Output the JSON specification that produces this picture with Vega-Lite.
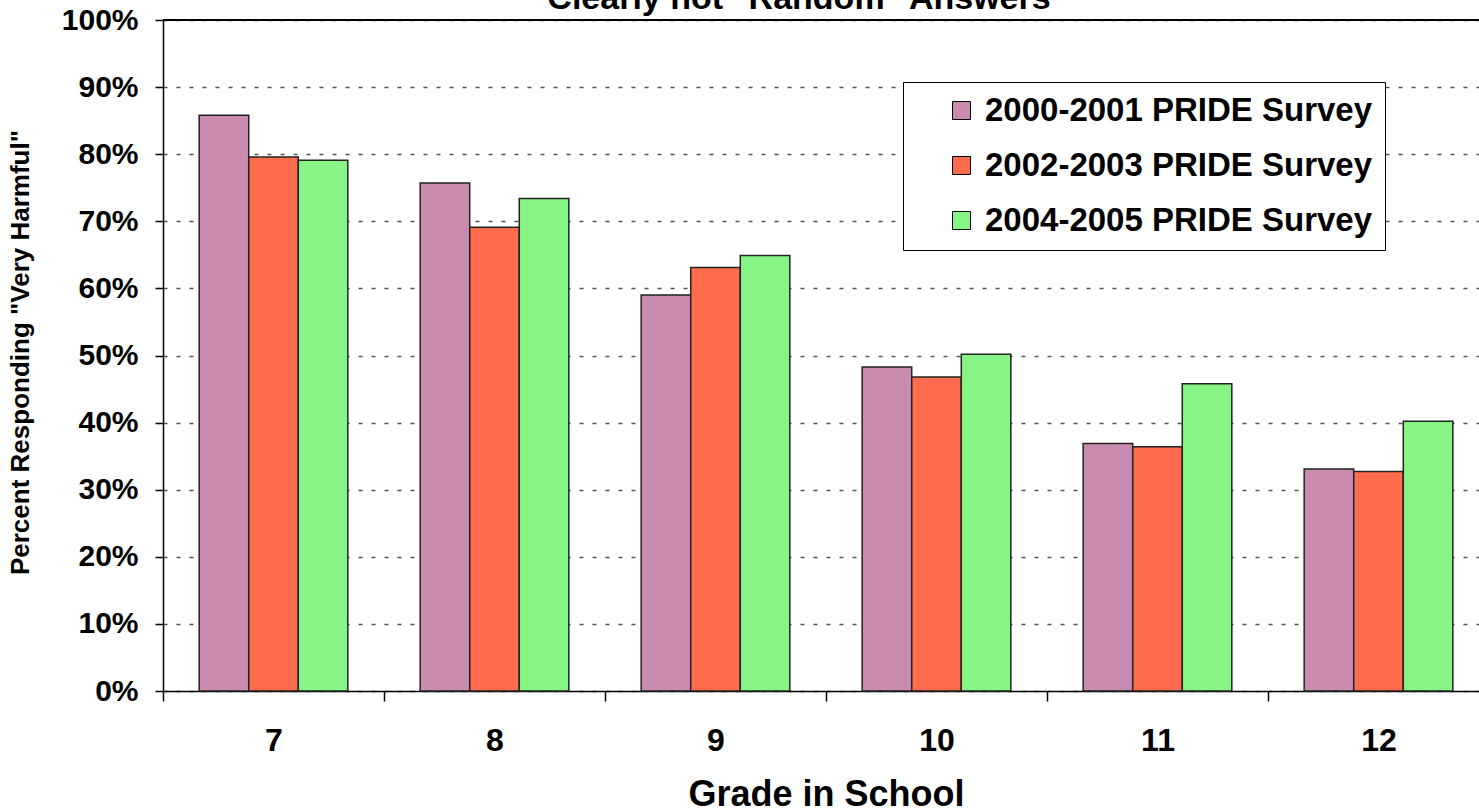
{
  "$schema": "https://vega.github.io/schema/vega-lite/v6.json",
  "width": 1316,
  "height": 671,
  "autosize": {"type": "none"},
  "padding": {"left": 163, "top": 20, "right": 0, "bottom": 121},
  "background": "white",
  "config": {"view": {"stroke": null}, "font": "Liberation Sans"},
  "title": {
    "text": "Clearly not \"Random\" Answers",
    "fontSize": 34,
    "fontWeight": "bold",
    "font": "Liberation Sans",
    "color": "black",
    "anchor": "middle",
    "offset": 6,
    "dx": -22,
    "dy": 17
  },
  "data": {
    "values": [
      {"grade": 7, "survey": "2000-2001 PRIDE Survey", "pct": 0.858},
      {"grade": 7, "survey": "2002-2003 PRIDE Survey", "pct": 0.796},
      {"grade": 7, "survey": "2004-2005 PRIDE Survey", "pct": 0.791},
      {"grade": 8, "survey": "2000-2001 PRIDE Survey", "pct": 0.757},
      {"grade": 8, "survey": "2002-2003 PRIDE Survey", "pct": 0.691},
      {"grade": 8, "survey": "2004-2005 PRIDE Survey", "pct": 0.734},
      {"grade": 9, "survey": "2000-2001 PRIDE Survey", "pct": 0.590},
      {"grade": 9, "survey": "2002-2003 PRIDE Survey", "pct": 0.631},
      {"grade": 9, "survey": "2004-2005 PRIDE Survey", "pct": 0.649},
      {"grade": 10, "survey": "2000-2001 PRIDE Survey", "pct": 0.483},
      {"grade": 10, "survey": "2002-2003 PRIDE Survey", "pct": 0.468},
      {"grade": 10, "survey": "2004-2005 PRIDE Survey", "pct": 0.502},
      {"grade": 11, "survey": "2000-2001 PRIDE Survey", "pct": 0.369},
      {"grade": 11, "survey": "2002-2003 PRIDE Survey", "pct": 0.364},
      {"grade": 11, "survey": "2004-2005 PRIDE Survey", "pct": 0.458},
      {"grade": 12, "survey": "2000-2001 PRIDE Survey", "pct": 0.331},
      {"grade": 12, "survey": "2002-2003 PRIDE Survey", "pct": 0.327},
      {"grade": 12, "survey": "2004-2005 PRIDE Survey", "pct": 0.402}
    ]
  },
  "layer": [
    {
      "mark": {"type": "bar", "stroke": "#222", "strokeWidth": 1.5},
      "encoding": {
        "x": {
          "field": "grade",
          "type": "ordinal",
          "sort": [7, 8, 9, 10, 11, 12],
          "scale": {"range": [0, 1326], "paddingInner": 0, "paddingOuter": 0},
          "axis": {
            "labelAngle": 0,
            "labelFontSize": 32,
            "labelFontWeight": "bold",
            "labelColor": "black",
            "tickBand": "extent",
            "tickSize": 10,
            "tickColor": "black",
            "tickWidth": 1.5,
            "labelPadding": 24,
            "domainColor": "black",
            "domainWidth": 1.5,
            "grid": false,
            "title": "Grade in School",
            "titleFontSize": 36,
            "titleFontWeight": "bold",
            "titleColor": "black",
            "titleBaseline": "alphabetic",
            "titleAlign": "center",
            "titleX": 663,
            "titleY": 114
          }
        },
        "xOffset": {
          "field": "survey",
          "type": "nominal",
          "scale": {"paddingInner": 0, "paddingOuter": 0.73}
        },
        "y": {
          "field": "pct",
          "type": "quantitative",
          "scale": {"domain": [0, 1]},
          "axis": {
            "values": [0, 0.1, 0.2, 0.3, 0.4, 0.5, 0.6, 0.7, 0.8, 0.9, 1],
            "format": ".0%",
            "labelFontSize": 30,
            "labelFontWeight": "bold",
            "labelColor": "black",
            "tickSize": 8,
            "tickColor": "black",
            "tickWidth": 1.5,
            "labelPadding": 17,
            "domainColor": "black",
            "domainWidth": 1.5,
            "grid": true,
            "gridDash": [4, 9],
            "gridColor": "#555",
            "gridWidth": 1.5,
            "title": "Percent Responding \"Very Harmful\"",
            "titleFontSize": 26,
            "titleFontWeight": "bold",
            "titleColor": "black",
            "titleAngle": -90,
            "titleBaseline": "alphabetic",
            "titleAlign": "center",
            "titleX": -135,
            "titleY": 332
          }
        },
        "color": {
          "field": "survey",
          "type": "nominal",
          "scale": {
            "domain": ["2000-2001 PRIDE Survey", "2002-2003 PRIDE Survey", "2004-2005 PRIDE Survey"],
            "range": ["#c98bb0", "#ff6b4d", "#86f586"]
          },
          "legend": {
            "orient": "none",
            "legendX": 740,
            "legendY": 62,
            "title": null,
            "labelFontSize": 33,
            "labelFontWeight": "bold",
            "labelColor": "black",
            "labelLimit": 600,
            "symbolType": "square",
            "symbolSize": 324,
            "symbolStrokeColor": "black",
            "symbolStrokeWidth": 1,
            "symbolOpacity": 1,
            "strokeColor": "black",
            "fillColor": "white",
            "padding": 12,
            "rowPadding": 21,
            "symbolOffset": 30,
            "labelOffset": 7
          }
        }
      }
    },
    {
      "mark": {"type": "rule", "color": "black", "strokeWidth": 1.5},
      "encoding": {"y": {"datum": 1}}
    }
  ]
}
